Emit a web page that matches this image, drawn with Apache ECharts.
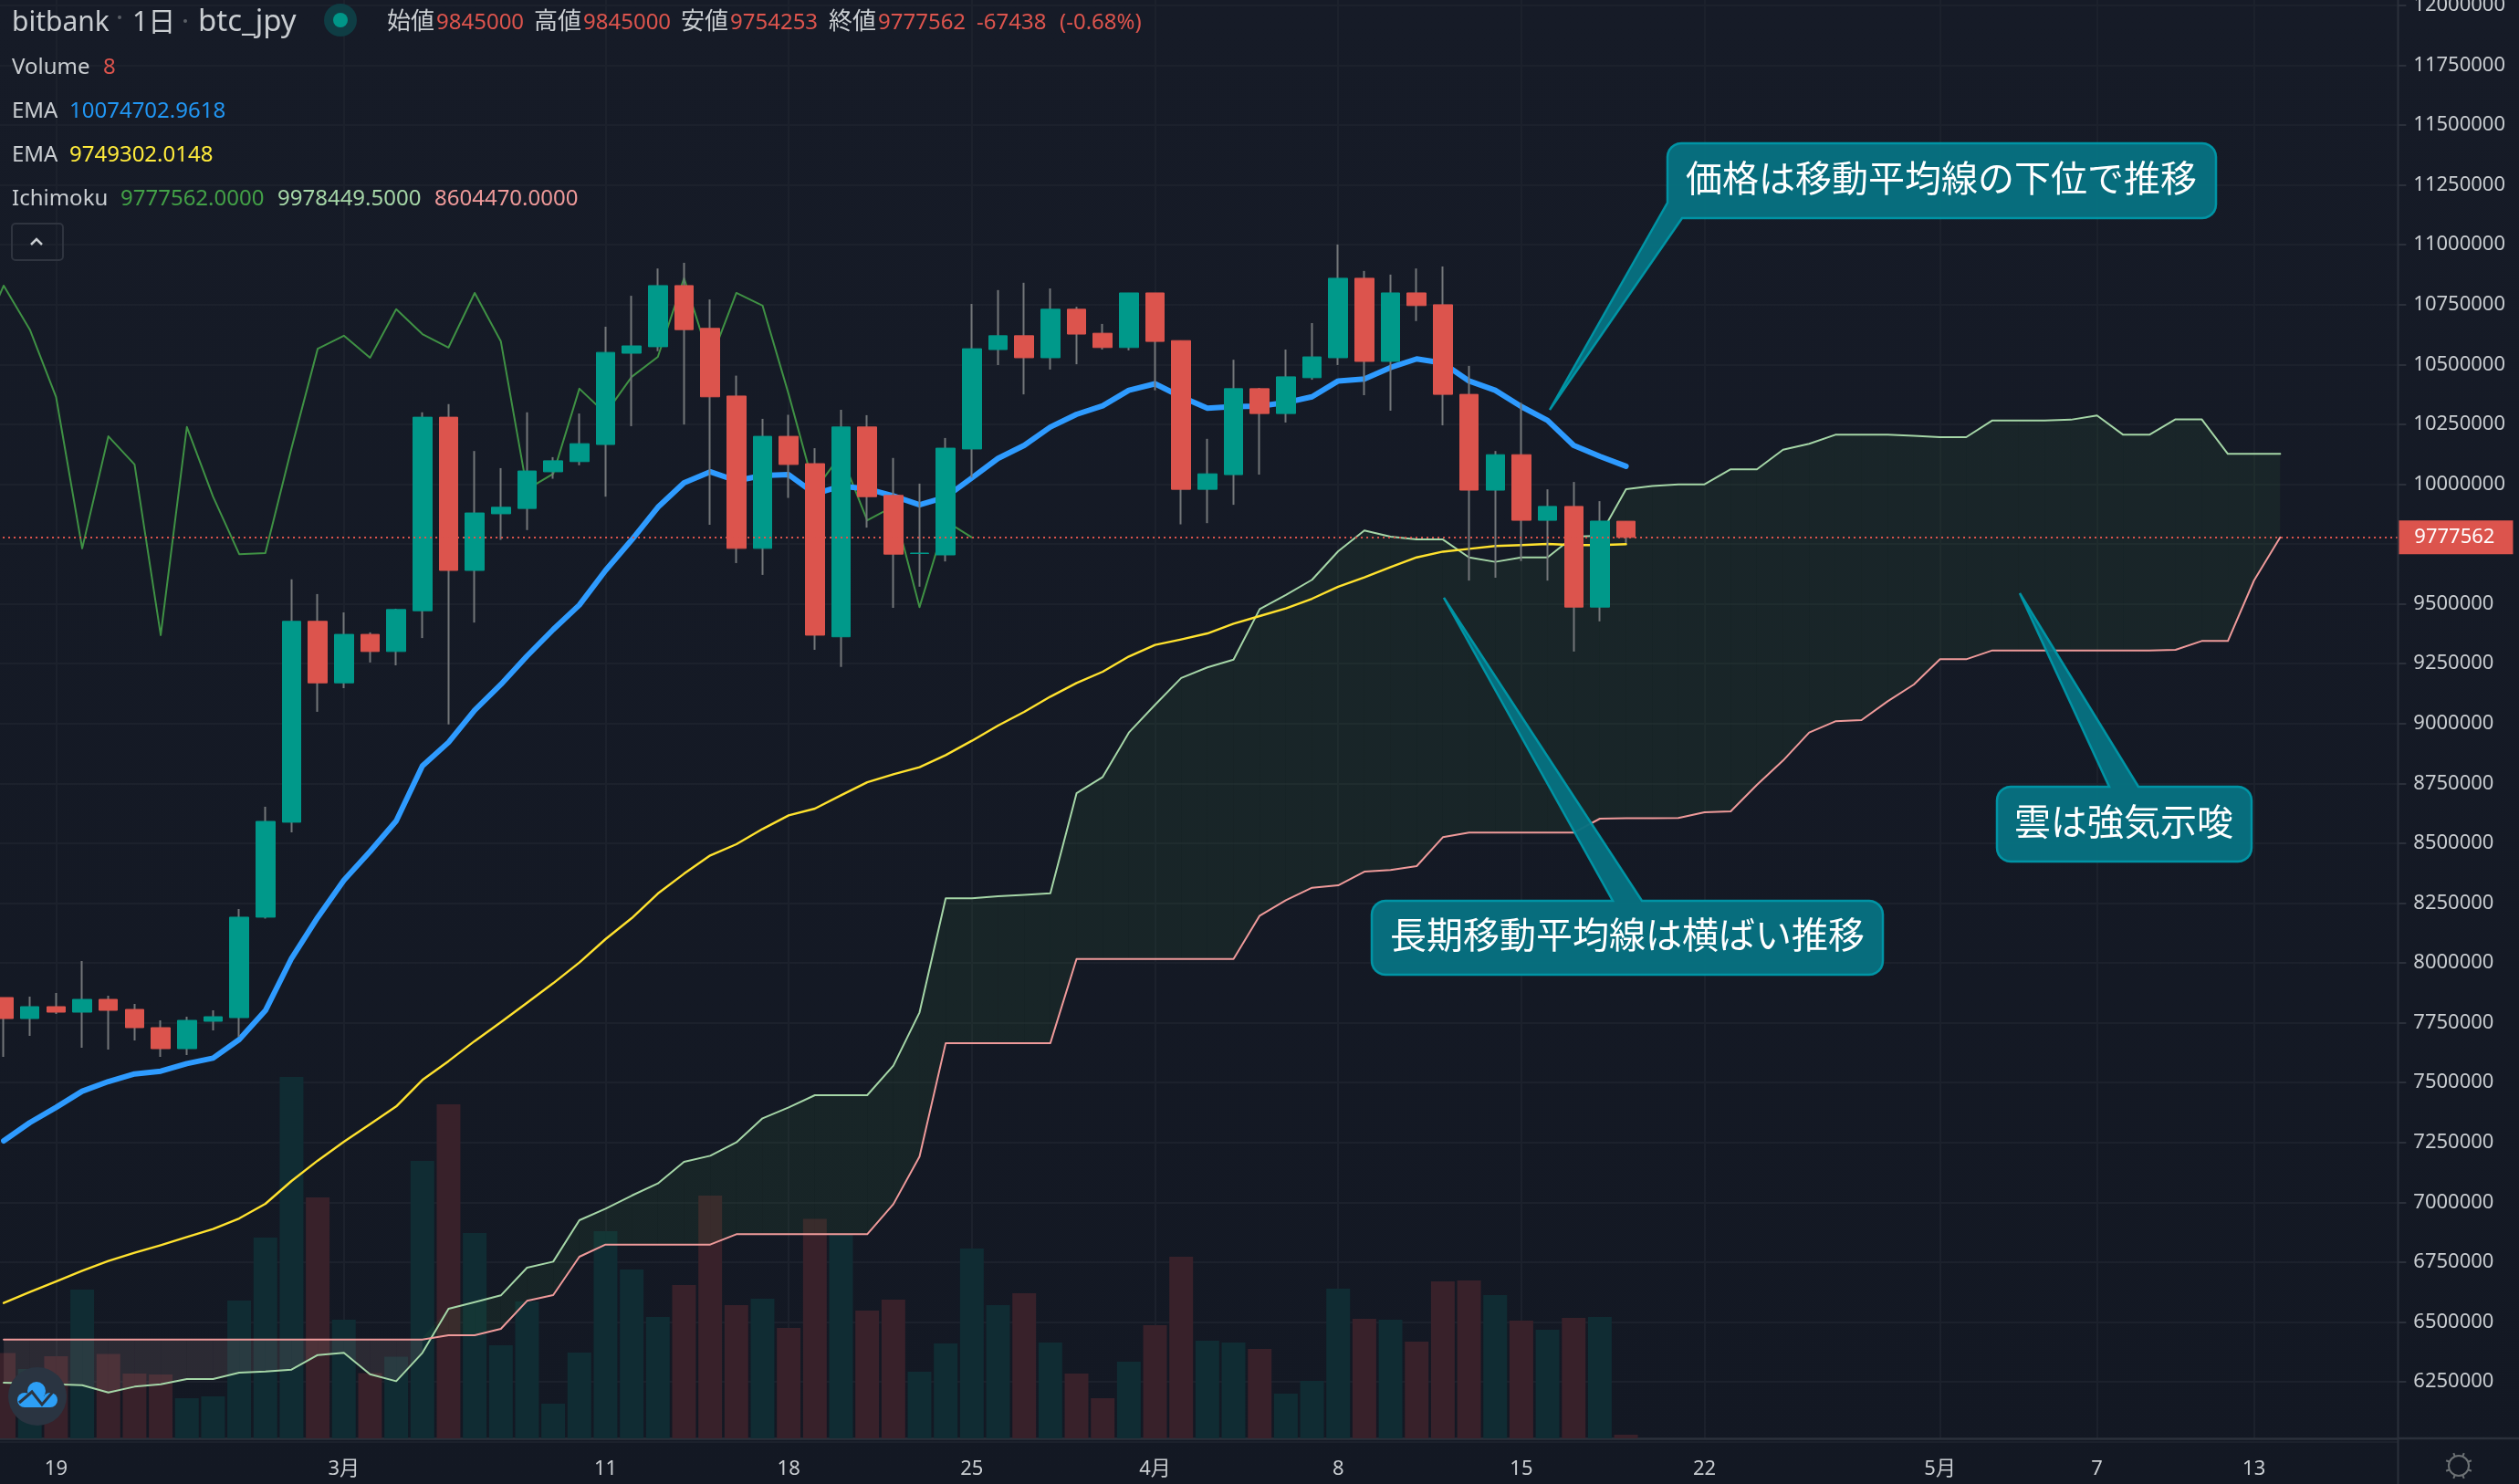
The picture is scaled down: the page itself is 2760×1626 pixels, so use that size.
<!DOCTYPE html>
<html>
<head>
<meta charset="utf-8">
<title>btc_jpy</title>
<script src="https://cdn.jsdelivr.net/npm/echarts@6/dist/echarts.min.js"></script>
<style>
html,body{margin:0;padding:0;background:#141925;}
#BtcChart{width:2760px;height:1626px;}
</style>
</head>
<body>
<div id="BtcChart"></div>
<script>
//日付 (先頭の2/16は遅行スパンの左端だけ)
var categories = [
    '2/16','2/17','2/18','2/19','2/20','2/21','2/22','2/23','2/24','2/25','2/26','2/27','2/28','2/29',
    '3/1','3/2','3/3','3/4','3/5','3/6','3/7','3/8','3/9','3/10','3/11','3/12','3/13','3/14','3/15','3/16',
    '3/17','3/18','3/19','3/20','3/21','3/22','3/23','3/24','3/25','3/26','3/27','3/28','3/29','3/30','3/31',
    '4/1','4/2','4/3','4/4','4/5','4/6','4/7','4/8','4/9','4/10','4/11','4/12','4/13','4/14','4/15','4/16',
    '4/17','4/18','4/19','4/20','4/21','4/22','4/23','4/24','4/25','4/26','4/27','4/28','4/29','4/30',
    '5/1','5/2','5/3','5/4','5/5','5/6','5/7','5/8','5/9','5/10','5/11','5/12','5/13','5/14','5/15','5/16','5/17','5/18'
];
var tickLabels = {'2/19':'19','3/1':'3月','3/11':'11','3/18':'18','3/25':'25','4/1':'4月','4/8':'8','4/15':'15','4/22':'22','5/1':'5月','5/7':'7','5/13':'13'};

//ローソク足
var opens = [null,
    7855200,7767500,7817100,7794200,7847600,7805600,7729400,7641700,7756100,7771300,
    8191000,8587600,9426800,9169800,9372300,9300800,9471000,10279600,9639500,9876100,
    9898300,10051500,10094000,10165500,10546800,10574000,10829300,10650600,10368000,9731500,
    10199600,10085500,9362200,10238700,9952700,9710000,9704300,10146800,10562100,10620000,
    10528000,10730600,10630200,10570600,10798700,10599500,9978300,10039600,10398700,10294900,
    10444600,10528000,10860000,10512700,10798700,10749300,10374900,9974900,10122900,9848900,
    9906800,9486400,9845000];
var closes = [null,
    7767500,7817100,7794200,7847600,7801800,7729400,7641700,7759900,7775100,8191000,
    8591000,9426800,9169800,9372300,9300800,9476200,10279600,9639500,9879500,9903400,
    10054900,10097400,10168900,10550200,10577400,10829300,10645500,10364700,9731500,10199600,
    10082100,9369000,10238700,9947600,9707600,9712000,10150200,10565500,10620000,10528000,
    10730600,10626800,10570600,10798700,10596100,9978300,10043000,10398700,10294900,10448100,
    10531500,10860000,10512700,10798700,10745900,10374900,9974900,10122900,9848900,9906800,
    9486400,9845500,9777562];
var lows = [null,
    7607400,7695100,7786600,7645500,7637900,7676000,7607400,7615000,7717900,7691300,
    8185000,8545000,9048900,9147700,9254900,9243000,9357000,8996000,9421700,9767200,
    9808100,10022500,10078700,9947600,10242100,10555300,10248900,9830200,9670200,9620800,
    9942500,9307700,9236200,9818300,9483000,9571500,9677000,10027600,10497400,10374900,
    10478700,10500800,10562100,10558700,10391900,9831900,9837000,9913600,10039600,10257400,
    10436100,10497400,10371500,10306800,10681200,10245500,9597000,9608900,9678700,9597000,
    9300800,9426800,9754253];
var highs = [null,
    7855200,7859000,7874300,8007700,7862800,7828500,7759900,7775100,7801800,8225000,
    8652300,9602000,9540800,9464200,9380800,9479600,10300000,10334000,10138300,10066800,
    10300000,10112700,10294900,10657400,10786800,10900800,10924600,10771400,10453200,10272700,
    10289700,10150200,10310200,10288000,10109300,10002100,10192700,10752700,10810600,10841200,
    10817400,10740800,10669300,10798700,10798700,10599500,10189300,10519500,10402100,10562100,
    10672700,11001200,10890600,10875300,10900800,10909300,10494000,10138300,10339100,9978300,
    10008900,9928900,9845000];

//出来高
var volumes = [null,
    187,152,180,326,185,142,140,88,92,302,
    440,792,528,260,143,179,608,732,450,204,
    300,76,188,454,370,266,336,532,292,306,
    242,481,446,280,304,146,208,416,292,318,
    210,142,88,168,248,398,214,210,196,98,
    126,328,262,260,212,344,346,314,258,238,
    264,266,8];

//EMA 2本
var emaFast = [null,
    7256600,7332800,7396400,7463800,7504400,7536200,7547600,7579400,7602300,7679800,
    7800500,8019100,8190000,8345000,8465000,8592800,8822500,8921300,9055700,9163000,
    9282100,9392700,9494900,9639500,9767200,9903400,10005500,10051500,10014000,10036200,
    10039600,9959600,9991900,9980000,9951000,9913600,9946000,10026000,10107600,10162000,
    10238700,10291500,10327200,10391900,10419100,10364700,10317000,10323800,10325500,10340800,
    10364700,10431000,10439500,10487000,10523000,10506000,10431000,10391900,10323800,10266000,
    10162000,10116200,10074703];
var emaSlow = [null,
    6579200,6624900,6669400,6713900,6754600,6788900,6820700,6854900,6888000,6932500,
    6993500,7088800,7174000,7252800,7326500,7400200,7510800,7589600,7673500,7752300,
    7833600,7915000,8001300,8099200,8186900,8289800,8372400,8448700,8495700,8559300,
    8616500,8644400,8700000,8754500,8788000,8817200,8868100,8927800,8991300,9048500,
    9112100,9169300,9216300,9279900,9328100,9351000,9376400,9417100,9448900,9480700,
    9521300,9571300,9610600,9653200,9694000,9717900,9729800,9741700,9745100,9750200,
    9745100,9745100,9749302];

//一目均衡表
var laggingSpan = [10577400,
    10829300,10645500,10364700,9731500,10199600,10082100,9369000,10238700,9947600,9707600,
    9712000,10150200,10565500,10620000,10528000,10730600,10626800,10570600,10798700,10596100,
    9978300,10043000,10398700,10294900,10448100,10531500,10860000,10512700,10798700,10745900,
    10374900,9974900,10122900,9848900,9906800,9486400,9845500,9777562];
var leadA = [null,
    6246200,6243700,6239800,6236000,6205500,6229700,6239800,6261500,6261500,6288200,
    6293200,6300900,6361900,6370800,6281800,6252600,6370800,6555000,6583000,6611000,
    6726600,6752000,6924900,6973200,7027800,7078600,7168900,7194300,7250200,7350600,
    7396400,7447200,7447200,7447200,7570500,7793000,8270000,8270000,8278000,8284000,
    8291000,8708500,8776600,8962100,9078000,9190200,9234600,9266900,9477900,9537400,
    9600400,9719600,9806300,9780800,9768900,9768900,9694000,9675300,9694000,9694000,
    9780800,9784200,9978449,9991900,9999200,9999200,10061900,10061900,10143600,10168400,
    10206300,10206300,10206300,10201900,10196100,10196100,10266200,10266200,10266200,10269100,
    10286600,10206300,10206300,10270600,10270600,10126100,10126100,10126100];
var leadB = [null,
    6426700,6426700,6426700,6426700,6426700,6426700,6426700,6426700,6426700,6426700,
    6426700,6426700,6426700,6426700,6426700,6426700,6426700,6444500,6444500,6471200,
    6588100,6612200,6772400,6823200,6823200,6823200,6823200,6823200,6866400,6866400,
    6866400,6866400,6866400,6866400,6992200,7190500,7665000,7665000,7665000,7665000,
    7665000,8016000,8016000,8016000,8016000,8016000,8016000,8016000,8197000,8262000,
    8313900,8324100,8381300,8387700,8404200,8524900,8544000,8544000,8544000,8544000,
    8544000,8602500,8604470,8604470,8605000,8629100,8633000,8743500,8845200,8962100,
    9009200,9014200,9093000,9162900,9268400,9268400,9305300,9305300,9305300,9305300,
    9305300,9305300,9305300,9307800,9344700,9344700,9597600,9777562];

var lastClose = 9777562;

var upColor = '#00998a';
var downColor = '#dc544d';
var wickColor = '#737679';
var gridColor = '#1c212c';
var axisColor = '#2b303b';
var textColor = '#c9cdd1';
var uiFont = '"Noto Sans","Noto Sans CJK JP",sans-serif';

//ローソク足の実体と芯は別々のシリーズで描く
var wickData = [];
var bodyData = [];
var volumeData = [];
for (var i = 0; i < opens.length; i++) {
    if (opens[i] === null) {
        wickData.push(['-', '-', '-', '-']);
        bodyData.push(['-', '-', '-', '-']);
        volumeData.push('-');
        continue;
    }
    wickData.push([opens[i], closes[i], lows[i], highs[i]]);
    bodyData.push([opens[i], closes[i], Math.min(opens[i], closes[i]), Math.max(opens[i], closes[i])]);
    volumeData.push({
        value: volumes[i],
        itemStyle: {color: closes[i] >= opens[i] ? '#102c33' : '#38212a'}
    });
}

var cloudData = [];
for (var k = 1; k < leadA.length - 1; k++) {
    cloudData.push([k, leadA[k], leadB[k], leadA[k + 1], leadB[k + 1]]);
}

//雲 1区間ごとに多角形
function renderCloud(params, api) {
    var n = api.value(0), a0 = api.value(1), b0 = api.value(2), a1 = api.value(3), b1 = api.value(4);
    var d0 = a0 - b0, d1 = a1 - b1;
    var green = 'rgba(76,175,80,0.08)', red = 'rgba(225,170,175,0.12)';
    function poly(pts, fill) {
        return {type: 'polygon', shape: {points: pts.map(function (p) { return api.coord(p); })}, style: {fill: fill}, silent: true};
    }
    if (d0 * d1 < 0) {
        var t = d0 / (d0 - d1);
        var cross = [n + t, a0 + (a1 - a0) * t];
        return {type: 'group', children: [
            poly([[n, a0], cross, [n, b0]], d0 > 0 ? green : red),
            poly([cross, [n + 1, a1], [n + 1, b1]], d1 > 0 ? green : red)
        ]};
    }
    return poly([[n, a0], [n + 1, a1], [n + 1, b1], [n, b0]], d0 >= 0 && d1 >= 0 ? green : red);
}

function lineSeries(name, data, color, width, z) {
    return {
        name: name,
        type: 'line',
        data: data,
        xAxisIndex: 0,
        yAxisIndex: 0,
        symbol: 'none',
        connectNulls: false,
        z: z,
        lineStyle: {color: color, width: width, join: 'round', cap: 'round'}
    };
}

//以下は画面の飾り
function label(text, x, y, color, size, align) {
    return {
        type: 'text',
        z: 50,
        silent: true,
        style: {text: text, x: x, y: y, fill: color, font: (size || 24) + 'px ' + uiFont, textAlign: align || 'left', textVerticalAlign: 'middle'}
    };
}

function corner(cx, cy, r, start) {
    var pts = [];
    for (var s = 0; s <= 6; s++) {
        var a = (start + s * 15) * Math.PI / 180;
        pts.push([cx + r * Math.cos(a), cy + r * Math.sin(a)]);
    }
    return pts;
}

function bubble(points, text, cx, cy) {
    return [{
        type: 'polygon',
        z: 60,
        silent: true,
        shape: {points: points},
        style: {fill: '#077180', stroke: '#0097a7', lineWidth: 2.5, opacity: 0.97}
    }, {
        type: 'text',
        z: 61,
        silent: true,
        style: {text: text, x: cx, y: cy, fill: '#ffffff', font: '40px "Noto Sans CJK JP",sans-serif', textAlign: 'center', textVerticalAlign: 'middle'}
    }];
}

//吹き出し 上辺に足があるもの
function topTailBox(x0, y0, x1, y1, b0, b1, tip) {
    var r = 15;
    return corner(x0 + r, y0 + r, r, 180)
        .concat([[b0, y0], tip, [b1, y0]])
        .concat(corner(x1 - r, y0 + r, r, 270))
        .concat(corner(x1 - r, y1 - r, r, 0))
        .concat(corner(x0 + r, y1 - r, r, 90));
}

var bubbleOne = corner(1842, 172, 15, 180)
    .concat(corner(2413, 172, 15, 270))
    .concat(corner(2413, 224, 15, 0))
    .concat([[1843, 239], [1698, 449], [1827, 222]]);

var gearTicks = [];
for (var g = 0; g < 8; g++) {
    var ga = (g * 45 + 22.5) * Math.PI / 180;
    gearTicks.push({
        type: 'line',
        z: 50,
        silent: true,
        shape: {x1: 2694 + 11 * Math.cos(ga), y1: 1606 + 11 * Math.sin(ga), x2: 2694 + 15 * Math.cos(ga), y2: 1606 + 15 * Math.sin(ga)},
        style: {stroke: '#6d7275', lineWidth: 2}
    });
}

var chrome = [
    //価格軸の縦線と時間軸の右端
    {type: 'line', z: 40, silent: true, shape: {x1: 2627.5, y1: 0, x2: 2627.5, y2: 1626}, style: {stroke: axisColor, lineWidth: 2}},
    {type: 'line', z: 40, silent: true, shape: {x1: 2627, y1: 1576, x2: 2760, y2: 1576}, style: {stroke: axisColor, lineWidth: 2.5}},

    //ヘッダー
    label('bitbank', 13, 25, textColor, 30),
    {type: 'circle', z: 50, silent: true, shape: {cx: 131, cy: 19, r: 2}, style: {fill: '#5a5f66'}},
    label('1日', 145, 25, textColor, 30),
    {type: 'circle', z: 50, silent: true, shape: {cx: 203, cy: 23, r: 2}, style: {fill: '#5a5f66'}},
    label('btc_jpy', 217, 25, textColor, 33),
    {type: 'circle', z: 50, silent: true, shape: {cx: 373, cy: 22, r: 18}, style: {fill: '#0f3d44'}},
    {type: 'circle', z: 51, silent: true, shape: {cx: 373, cy: 22, r: 8}, style: {fill: '#009688'}},
    label('始値', 424, 25, textColor, 26),
    label('9845000', 478, 25, downColor),
    label('高値', 585, 25, textColor, 26),
    label('9845000', 639, 25, downColor),
    label('安値', 746, 25, textColor, 26),
    label('9754253', 800, 25, downColor),
    label('終値', 908, 25, textColor, 26),
    label('9777562', 962, 25, downColor),
    label('-67438', 1070, 25, downColor),
    label('(-0.68%)', 1161, 25, downColor),

    label('Volume', 13, 74, textColor),
    label('8', 113, 74, downColor),
    label('EMA', 13, 122, textColor),
    label('10074702.9618', 76, 122, '#2196f3'),
    label('EMA', 13, 170, textColor),
    label('9749302.0148', 76, 170, '#ffeb3b'),
    label('Ichimoku', 13, 218, textColor),
    label('9777562.0000', 132, 218, '#43a047'),
    label('9978449.5000', 304, 218, '#a5d6a7'),
    label('8604470.0000', 476, 218, '#ef9a9a'),

    //折りたたみボタン
    {type: 'rect', z: 50, silent: true, shape: {x: 13, y: 245, width: 56, height: 40, r: 4}, style: {fill: 'none', stroke: '#2f343f', lineWidth: 2}},
    {type: 'polyline', z: 50, silent: true, shape: {points: [[34, 268], [40, 262], [46, 268]]}, style: {fill: 'none', stroke: textColor, lineWidth: 2.5}},

    //左下のロゴ
    {type: 'circle', z: 50, silent: true, shape: {cx: 41, cy: 1530, r: 32}, style: {fill: '#2a3441'}},
    {type: 'circle', z: 51, silent: true, shape: {cx: 40, cy: 1524, r: 10}, style: {fill: '#2d9ff5'}},
    {type: 'circle', z: 51, silent: true, shape: {cx: 27, cy: 1534, r: 8}, style: {fill: '#2d9ff5'}},
    {type: 'circle', z: 51, silent: true, shape: {cx: 55, cy: 1534, r: 8}, style: {fill: '#2d9ff5'}},
    {type: 'rect', z: 51, silent: true, shape: {x: 27, y: 1530, width: 28, height: 12}, style: {fill: '#2d9ff5'}},
    {type: 'polyline', z: 52, silent: true, shape: {points: [[21, 1537], [35, 1525], [46, 1539], [58, 1525]]}, style: {fill: 'none', stroke: '#2a3441', lineWidth: 3}},

    //右下の歯車
    {type: 'circle', z: 50, silent: true, shape: {cx: 2694, cy: 1606, r: 11}, style: {fill: 'none', stroke: '#6d7275', lineWidth: 2}}
].concat(gearTicks)
    .concat(bubble(bubbleOne, '価格は移動平均線の下位で推移', 2127, 195))
    .concat(bubble(topTailBox(1503, 987, 2063, 1068, 1767, 1799, [1582, 655]), '長期移動平均線は横ばい推移', 1783, 1024))
    .concat(bubble(topTailBox(2188, 862, 2467, 944, 2311, 2343, [2213, 650]), '雲は強気示唆', 2327, 900));

var BtcChart = echarts.init(document.getElementById('BtcChart'));
var option = {
    animation: false,
    backgroundColor: new echarts.graphic.LinearGradient(0, 0, 0, 1, [
        {offset: 0, color: '#161b27'},
        {offset: 1, color: '#131823'}
    ]),
    graphic: chrome,
    grid: [
        {left: -38.945, width: 2666.31, top: -59.7, height: 1639.3, outerBoundsMode: 'none'},
        {left: -38.945, width: 2666.31, top: 0, height: 1576, outerBoundsMode: 'none'}
    ],
    xAxis: [
        {
            type: 'category',
            gridIndex: 0,
            data: categories,
            show: false
        },
        {
            type: 'category',
            gridIndex: 1,
            data: categories,
            axisLine: {lineStyle: {color: axisColor, width: 2.5}},
            axisTick: {
                alignWithLabel: true,
                length: 8,
                interval: function (index, value) { return tickLabels[value] !== undefined; },
                lineStyle: {color: axisColor, width: 2}
            },
            splitLine: {
                show: true,
                alignWithLabel: true,
                interval: function (index, value) { return tickLabels[value] !== undefined; },
                lineStyle: {color: gridColor, width: 2}
            },
            axisLabel: {
                interval: function (index, value) { return tickLabels[value] !== undefined; },
                formatter: function (value) { return tickLabels[value] || ''; },
                color: textColor,
                fontFamily: uiFont,
                fontSize: 22,
                margin: 23
            }
        }
    ],
    yAxis: [
        {
            type: 'value',
            gridIndex: 0,
            position: 'right',
            min: 6000000,
            max: 12250000,
            interval: 250000,
            axisLine: {show: false},
            axisTick: {show: true, length: 9, lineStyle: {color: axisColor, width: 2}},
            splitLine: {lineStyle: {color: gridColor, width: 2}},
            axisLabel: {
                showMinLabel: false,
                showMaxLabel: false,
                color: textColor,
                fontFamily: uiFont,
                fontSize: 22,
                margin: 17,
                padding: [5, 0, 0, 0],
                formatter: function (value) { return value === 9750000 ? '' : String(value); }
            }
        },
        {
            type: 'value',
            gridIndex: 1,
            min: 0,
            max: 3152,
            show: false
        }
    ],
    series: [
        {
            name: 'Volume',
            type: 'bar',
            xAxisIndex: 1,
            yAxisIndex: 1,
            data: volumeData,
            barWidth: 26,
            z: 1
        },
        {
            name: 'Cloud',
            type: 'custom',
            xAxisIndex: 0,
            yAxisIndex: 0,
            renderItem: renderCloud,
            data: cloudData,
            encode: {x: 0, y: [1, 2]},
            silent: true,
            z: 2
        },
        lineSeries('Lead A', leadA, '#a5d6a7', 2, 3),
        lineSeries('Lead B', leadB, '#ef9a9a', 2, 3),
        lineSeries('Lagging', laggingSpan, '#3f9144', 2, 3),
        lineSeries('EMA fast', emaFast, '#2e9bff', 6, 4),
        lineSeries('EMA slow', emaSlow, '#ffe22e', 2.4, 4),
        {
            name: 'Wick',
            type: 'candlestick',
            xAxisIndex: 0,
            yAxisIndex: 0,
            data: wickData,
            barWidth: 1,
            itemStyle: {color: wickColor, color0: wickColor, borderColor: wickColor, borderColor0: wickColor, borderWidth: 2},
            z: 5
        },
        {
            name: 'Body',
            type: 'candlestick',
            xAxisIndex: 0,
            yAxisIndex: 0,
            data: bodyData,
            barWidth: 21,
            itemStyle: {color: upColor, color0: downColor, borderColor: upColor, borderColor0: downColor, borderWidth: 1},
            z: 6,
            markLine: {
                silent: true,
                symbol: ['none', 'none'],
                z: 20,
                precision: 0,
                lineStyle: {color: downColor, type: [2, 4], width: 2},
                label: {
                    show: true,
                    position: 'end',
                    distance: 0,
                    formatter: String(lastClose),
                    color: '#ffffff',
                    fontFamily: uiFont,
                    fontSize: 22,
                    backgroundColor: downColor,
                    padding: [8, 20, 7, 18]
                },
                data: [{yAxis: lastClose}]
            }
        }
    ]
};
BtcChart.setOption(option);
</script>
</body>
</html>
